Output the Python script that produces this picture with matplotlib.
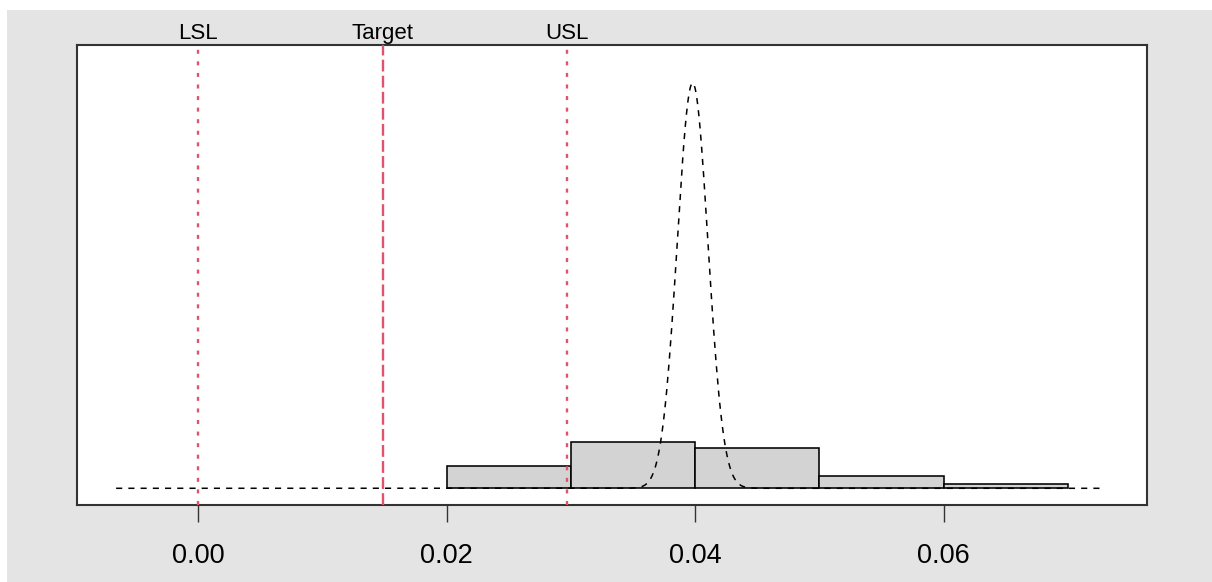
"""
Histograma de capacidad de proceso con curva normal y limites de especificacion.
"""

import numpy as np
import matplotlib
matplotlib.use("Agg")
import matplotlib.pyplot as plt
from matplotlib.patches import Rectangle

plt.rcParams['font.family'] = ['Liberation Sans', 'DejaVu Sans']

# Datos
bin_edges = [0.02, 0.03, 0.04, 0.05, 0.06, 0.07]
bin_counts = [11, 23, 20, 6, 2]
spec_names = ['LSL', 'Target', 'USL']
spec_values = [0.0, 0.01485, 0.0297]
process_mean = 0.0398
process_sd = 0.001236
curve_range = (-0.0066, 0.0728)
tick_values = [0.00, 0.02, 0.04, 0.06]
tick_labels = ['0.00', '0.02', '0.04', '0.06']

W, H = 1212, 582
RED = '#DF536B'

edges = np.array(bin_edges)
counts = np.array(bin_counts)
density = counts / (counts.sum() * np.diff(edges))

# curva normal ajustada
xc = np.linspace(curve_range[0], curve_range[1], 800)
yc = np.exp(-0.5 * ((xc - process_mean) / process_sd) ** 2) / (process_sd * np.sqrt(2 * np.pi))

fig = plt.figure(figsize=(W / 100, H / 100), dpi=100, facecolor='white')
fig.add_artist(Rectangle((7 / W, 0), 1, 1 - 10 / H, transform=fig.transFigure,
                         facecolor='#e4e4e4', edgecolor='none', zorder=-10))

ax = fig.add_axes([77 / W, 1 - 504.5 / H, (1147.3 - 77) / W, (504.5 - 45) / H])
ax.set_facecolor('white')

ax.bar(edges[:-1], density, width=np.diff(edges), align='edge',
       color='#d3d3d3', edgecolor='black', linewidth=1.15, zorder=2)
ax.plot(xc, yc, color='black', linewidth=1.1, linestyle=(0, (4.0, 4.0)), zorder=3)

styles = {'LSL': (0, (1.7, 3.2)), 'Target': (0, (5, 1.8)), 'USL': (0, (1.7, 3.2))}
for name, val in zip(spec_names, spec_values):
    ax.axvline(val, color=RED, linewidth=1.7, linestyle=styles[name], zorder=4)
    ax.text(val, 1.0124, name, transform=ax.get_xaxis_transform(),
            ha='center', va='baseline', fontsize=16, color='black')

ax.set_xlim(-0.00975, 0.0764)
ax.set_ylim(-12.9, 352.9)
ax.set_yticks([])
ax.set_xticks(tick_values)
ax.set_xticklabels(tick_labels, fontsize=19.5)
ax.tick_params(axis='x', length=12, width=1, color='#333333', pad=16)

for s in ax.spines.values():
    s.set_color('#333333')
    s.set_linewidth(1.5)

fig.savefig('out.png', dpi=100, facecolor=fig.get_facecolor())
